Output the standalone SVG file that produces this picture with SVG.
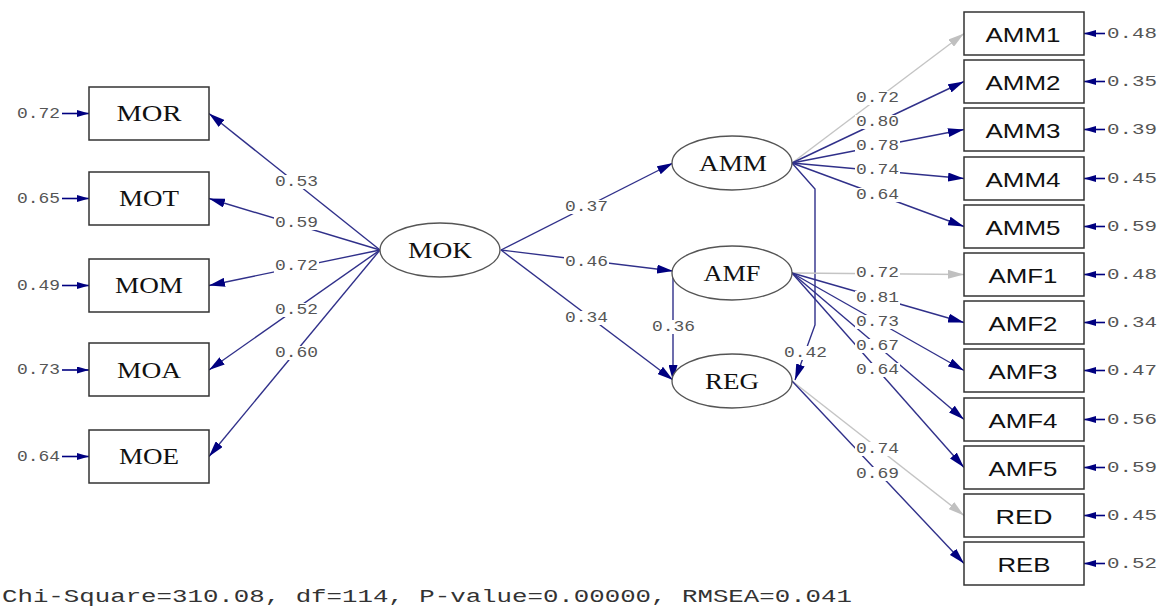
<svg xmlns="http://www.w3.org/2000/svg" width="1164" height="613" viewBox="0 0 1164 613">
<defs>
<style>
.bx{fill:#fff;stroke:#333;stroke-width:1.5}
.el{fill:#fff;stroke:#555;stroke-width:1.3}
.ln{fill:none;stroke:#30308a;stroke-width:1.4}
.lg{fill:none;stroke:#c4c4c4;stroke-width:1.4}
.ea{fill:none;stroke:#000080;stroke-width:1.6}
.bg{fill:#fff}
.tr{font-family:"Liberation Serif","Times New Roman",serif;font-size:23px;fill:#111;text-anchor:middle;dominant-baseline:central}
.ts{font-family:"Liberation Sans",Arial,sans-serif;font-size:21px;fill:#111;text-anchor:middle;dominant-baseline:central}
.tn{font-family:"Liberation Mono","Courier New",monospace;font-size:14px;fill:#555;dominant-baseline:central}
.tb{font-family:"Liberation Mono","Courier New",monospace;font-size:18px;fill:#333}
</style>
<marker id="ah" viewBox="0 0 16 9" refX="16" refY="4.5" markerWidth="16" markerHeight="9" markerUnits="userSpaceOnUse" orient="auto"><path d="M0,0 L16,4.5 L0,9 Z" fill="#000080"/></marker>
<marker id="ag" viewBox="0 0 16 9" refX="16" refY="4.5" markerWidth="16" markerHeight="9" markerUnits="userSpaceOnUse" orient="auto"><path d="M0,0 L16,4.5 L0,9 Z" fill="#c0c0c0"/></marker>
<marker id="ae" viewBox="0 0 12 7" refX="12" refY="3.5" markerWidth="12" markerHeight="7" markerUnits="userSpaceOnUse" orient="auto"><path d="M0,0 L12,3.5 L0,7 Z" fill="#000080"/></marker>
</defs>
<rect width="1164" height="613" fill="#fff"/>

<g id="connectors">
<line class="ln" x1="380" y1="250" x2="209" y2="113.5" marker-end="url(#ah)"/>
<line class="ln" x1="380" y1="250" x2="209" y2="198.5" marker-end="url(#ah)"/>
<line class="ln" x1="380" y1="250" x2="209" y2="285.5" marker-end="url(#ah)"/>
<line class="ln" x1="380" y1="250" x2="209" y2="370" marker-end="url(#ah)"/>
<line class="ln" x1="380" y1="250" x2="209" y2="456.5" marker-end="url(#ah)"/>
<line class="ea" x1="62" y1="113.5" x2="89" y2="113.5" marker-end="url(#ae)"/>
<line class="ea" x1="62" y1="198.5" x2="89" y2="198.5" marker-end="url(#ae)"/>
<line class="ea" x1="62" y1="285.5" x2="89" y2="285.5" marker-end="url(#ae)"/>
<line class="ea" x1="62" y1="370" x2="89" y2="370" marker-end="url(#ae)"/>
<line class="ea" x1="62" y1="456.5" x2="89" y2="456.5" marker-end="url(#ae)"/>
<line class="ln" x1="501" y1="250" x2="673" y2="163" marker-end="url(#ah)"/>
<line class="ln" x1="501" y1="250" x2="673" y2="271" marker-end="url(#ah)"/>
<line class="ln" x1="501" y1="250" x2="673" y2="380" marker-end="url(#ah)"/>
<line class="ln" x1="673" y1="273" x2="673" y2="381" marker-end="url(#ah)"/>
<polyline class="ln" points="792,163 815,189 815,325 795,380" marker-end="url(#ah)"/>
<line class="lg" x1="792" y1="163" x2="964" y2="33.5" marker-end="url(#ag)"/>
<line class="ln" x1="792" y1="163" x2="964" y2="81.5" marker-end="url(#ah)"/>
<line class="ln" x1="792" y1="163" x2="964" y2="129.5" marker-end="url(#ah)"/>
<line class="ln" x1="792" y1="163" x2="964" y2="178.5" marker-end="url(#ah)"/>
<line class="ln" x1="792" y1="163" x2="964" y2="226.5" marker-end="url(#ah)"/>
<line class="lg" x1="792" y1="273" x2="964" y2="274.5" marker-end="url(#ag)"/>
<line class="ln" x1="792" y1="273" x2="964" y2="322.5" marker-end="url(#ah)"/>
<line class="ln" x1="792" y1="273" x2="964" y2="370.5" marker-end="url(#ah)"/>
<line class="ln" x1="792" y1="273" x2="964" y2="419.5" marker-end="url(#ah)"/>
<line class="ln" x1="792" y1="273" x2="964" y2="467.5" marker-end="url(#ah)"/>
<line class="lg" x1="792" y1="381" x2="964" y2="515.5" marker-end="url(#ag)"/>
<line class="ln" x1="792" y1="381" x2="964" y2="563.5" marker-end="url(#ah)"/>
<line class="ea" x1="1105" y1="33.5" x2="1084" y2="33.5" marker-end="url(#ae)"/>
<line class="ea" x1="1105" y1="81.5" x2="1084" y2="81.5" marker-end="url(#ae)"/>
<line class="ea" x1="1105" y1="129.5" x2="1084" y2="129.5" marker-end="url(#ae)"/>
<line class="ea" x1="1105" y1="178.5" x2="1084" y2="178.5" marker-end="url(#ae)"/>
<line class="ea" x1="1105" y1="226.5" x2="1084" y2="226.5" marker-end="url(#ae)"/>
<line class="ea" x1="1105" y1="274.5" x2="1084" y2="274.5" marker-end="url(#ae)"/>
<line class="ea" x1="1105" y1="322.5" x2="1084" y2="322.5" marker-end="url(#ae)"/>
<line class="ea" x1="1105" y1="370.5" x2="1084" y2="370.5" marker-end="url(#ae)"/>
<line class="ea" x1="1105" y1="419.5" x2="1084" y2="419.5" marker-end="url(#ae)"/>
<line class="ea" x1="1105" y1="467.5" x2="1084" y2="467.5" marker-end="url(#ae)"/>
<line class="ea" x1="1105" y1="515.5" x2="1084" y2="515.5" marker-end="url(#ae)"/>
<line class="ea" x1="1105" y1="563.5" x2="1084" y2="563.5" marker-end="url(#ae)"/>
</g>

<g id="path-labels">
<rect class="bg" x="274" y="175" width="45" height="14"/><text class="tn" x="275" y="182" textLength="43" lengthAdjust="spacingAndGlyphs">0.53</text>
<rect class="bg" x="274" y="216" width="45" height="14"/><text class="tn" x="275" y="223" textLength="43" lengthAdjust="spacingAndGlyphs">0.59</text>
<rect class="bg" x="274" y="259" width="45" height="14"/><text class="tn" x="275" y="266" textLength="43" lengthAdjust="spacingAndGlyphs">0.72</text>
<rect class="bg" x="274" y="303" width="45" height="14"/><text class="tn" x="275" y="310" textLength="43" lengthAdjust="spacingAndGlyphs">0.52</text>
<rect class="bg" x="274" y="346" width="45" height="14"/><text class="tn" x="275" y="353" textLength="43" lengthAdjust="spacingAndGlyphs">0.60</text>
<rect class="bg" x="564" y="200" width="45" height="14"/><text class="tn" x="565" y="207" textLength="43" lengthAdjust="spacingAndGlyphs">0.37</text>
<rect class="bg" x="564" y="255" width="45" height="14"/><text class="tn" x="565" y="262" textLength="43" lengthAdjust="spacingAndGlyphs">0.46</text>
<rect class="bg" x="564" y="311" width="45" height="14"/><text class="tn" x="565" y="318" textLength="43" lengthAdjust="spacingAndGlyphs">0.34</text>
<rect class="bg" x="651" y="320" width="45" height="14"/><text class="tn" x="652" y="327" textLength="43" lengthAdjust="spacingAndGlyphs">0.36</text>
<rect class="bg" x="783" y="346" width="45" height="14"/><text class="tn" x="784" y="353" textLength="43" lengthAdjust="spacingAndGlyphs">0.42</text>
<rect class="bg" x="855" y="91" width="45" height="14"/><text class="tn" x="856" y="98" textLength="43" lengthAdjust="spacingAndGlyphs">0.72</text>
<rect class="bg" x="855" y="115" width="45" height="14"/><text class="tn" x="856" y="122" textLength="43" lengthAdjust="spacingAndGlyphs">0.80</text>
<rect class="bg" x="855" y="139" width="45" height="14"/><text class="tn" x="856" y="146" textLength="43" lengthAdjust="spacingAndGlyphs">0.78</text>
<rect class="bg" x="855" y="163" width="45" height="14"/><text class="tn" x="856" y="170" textLength="43" lengthAdjust="spacingAndGlyphs">0.74</text>
<rect class="bg" x="855" y="188" width="45" height="14"/><text class="tn" x="856" y="195" textLength="43" lengthAdjust="spacingAndGlyphs">0.64</text>
<rect class="bg" x="855" y="266" width="45" height="14"/><text class="tn" x="856" y="273" textLength="43" lengthAdjust="spacingAndGlyphs">0.72</text>
<rect class="bg" x="855" y="291" width="45" height="14"/><text class="tn" x="856" y="298" textLength="43" lengthAdjust="spacingAndGlyphs">0.81</text>
<rect class="bg" x="855" y="315" width="45" height="14"/><text class="tn" x="856" y="322" textLength="43" lengthAdjust="spacingAndGlyphs">0.73</text>
<rect class="bg" x="855" y="339" width="45" height="14"/><text class="tn" x="856" y="346" textLength="43" lengthAdjust="spacingAndGlyphs">0.67</text>
<rect class="bg" x="855" y="363" width="45" height="14"/><text class="tn" x="856" y="370" textLength="43" lengthAdjust="spacingAndGlyphs">0.64</text>
<rect class="bg" x="855" y="442" width="45" height="14"/><text class="tn" x="856" y="449" textLength="43" lengthAdjust="spacingAndGlyphs">0.74</text>
<rect class="bg" x="855" y="467" width="45" height="14"/><text class="tn" x="856" y="474" textLength="43" lengthAdjust="spacingAndGlyphs">0.69</text>
</g>

<g id="error-labels">
<text class="tn" x="17" y="113.5" textLength="43" lengthAdjust="spacingAndGlyphs">0.72</text>
<text class="tn" x="17" y="198.5" textLength="43" lengthAdjust="spacingAndGlyphs">0.65</text>
<text class="tn" x="17" y="285.5" textLength="43" lengthAdjust="spacingAndGlyphs">0.49</text>
<text class="tn" x="17" y="370" textLength="43" lengthAdjust="spacingAndGlyphs">0.73</text>
<text class="tn" x="17" y="456.5" textLength="43" lengthAdjust="spacingAndGlyphs">0.64</text>
<text class="tn" x="1107" y="33.5" textLength="50" lengthAdjust="spacingAndGlyphs">0.48</text>
<text class="tn" x="1107" y="81.5" textLength="50" lengthAdjust="spacingAndGlyphs">0.35</text>
<text class="tn" x="1107" y="129.5" textLength="50" lengthAdjust="spacingAndGlyphs">0.39</text>
<text class="tn" x="1107" y="178.5" textLength="50" lengthAdjust="spacingAndGlyphs">0.45</text>
<text class="tn" x="1107" y="226.5" textLength="50" lengthAdjust="spacingAndGlyphs">0.59</text>
<text class="tn" x="1107" y="274.5" textLength="50" lengthAdjust="spacingAndGlyphs">0.48</text>
<text class="tn" x="1107" y="322.5" textLength="50" lengthAdjust="spacingAndGlyphs">0.34</text>
<text class="tn" x="1107" y="370.5" textLength="50" lengthAdjust="spacingAndGlyphs">0.47</text>
<text class="tn" x="1107" y="419.5" textLength="50" lengthAdjust="spacingAndGlyphs">0.56</text>
<text class="tn" x="1107" y="467.5" textLength="50" lengthAdjust="spacingAndGlyphs">0.59</text>
<text class="tn" x="1107" y="515.5" textLength="50" lengthAdjust="spacingAndGlyphs">0.45</text>
<text class="tn" x="1107" y="563.5" textLength="50" lengthAdjust="spacingAndGlyphs">0.52</text>
</g>

<g id="MOR"><rect class="bx" x="89" y="87" width="120" height="53"/><text class="tr" x="149" y="113.5" textLength="65" lengthAdjust="spacingAndGlyphs">MOR</text></g>
<g id="MOT"><rect class="bx" x="89" y="172" width="120" height="53"/><text class="tr" x="149" y="198.5" textLength="60" lengthAdjust="spacingAndGlyphs">MOT</text></g>
<g id="MOM"><rect class="bx" x="89" y="259" width="120" height="53"/><text class="tr" x="149" y="285.5" textLength="68" lengthAdjust="spacingAndGlyphs">MOM</text></g>
<g id="MOA"><rect class="bx" x="89" y="343" width="120" height="53"/><text class="tr" x="149" y="370" textLength="64" lengthAdjust="spacingAndGlyphs">MOA</text></g>
<g id="MOE"><rect class="bx" x="89" y="430" width="120" height="53"/><text class="tr" x="149" y="456.5" textLength="60" lengthAdjust="spacingAndGlyphs">MOE</text></g>

<g id="MOK"><ellipse class="el" cx="440" cy="250" rx="60" ry="27"/><text class="tr" x="440" y="250" textLength="64" lengthAdjust="spacingAndGlyphs">MOK</text></g>
<g id="AMM"><ellipse class="el" cx="732" cy="163" rx="60" ry="27"/><text class="tr" x="733" y="163" textLength="68" lengthAdjust="spacingAndGlyphs">AMM</text></g>
<g id="AMF"><ellipse class="el" cx="732" cy="273" rx="60" ry="27"/><text class="tr" x="732" y="273" textLength="57" lengthAdjust="spacingAndGlyphs">AMF</text></g>
<g id="REG"><ellipse class="el" cx="732" cy="381" rx="60" ry="27"/><text class="tr" x="732" y="381" textLength="54" lengthAdjust="spacingAndGlyphs">REG</text></g>

<g id="AMM1"><rect class="bx" x="964" y="12" width="120" height="43"/><text class="ts" x="1023" y="34" textLength="75" lengthAdjust="spacingAndGlyphs">AMM1</text></g>
<g id="AMM2"><rect class="bx" x="964" y="60" width="120" height="43"/><text class="ts" x="1023" y="82" textLength="75" lengthAdjust="spacingAndGlyphs">AMM2</text></g>
<g id="AMM3"><rect class="bx" x="964" y="108" width="120" height="43"/><text class="ts" x="1023" y="130" textLength="75" lengthAdjust="spacingAndGlyphs">AMM3</text></g>
<g id="AMM4"><rect class="bx" x="964" y="157" width="120" height="43"/><text class="ts" x="1023" y="179" textLength="75" lengthAdjust="spacingAndGlyphs">AMM4</text></g>
<g id="AMM5"><rect class="bx" x="964" y="205" width="120" height="43"/><text class="ts" x="1023" y="227" textLength="75" lengthAdjust="spacingAndGlyphs">AMM5</text></g>
<g id="AMF1"><rect class="bx" x="964" y="253" width="120" height="43"/><text class="ts" x="1023" y="275" textLength="69" lengthAdjust="spacingAndGlyphs">AMF1</text></g>
<g id="AMF2"><rect class="bx" x="964" y="301" width="120" height="43"/><text class="ts" x="1023" y="323" textLength="69" lengthAdjust="spacingAndGlyphs">AMF2</text></g>
<g id="AMF3"><rect class="bx" x="964" y="349" width="120" height="43"/><text class="ts" x="1023" y="371" textLength="69" lengthAdjust="spacingAndGlyphs">AMF3</text></g>
<g id="AMF4"><rect class="bx" x="964" y="398" width="120" height="43"/><text class="ts" x="1023" y="420" textLength="69" lengthAdjust="spacingAndGlyphs">AMF4</text></g>
<g id="AMF5"><rect class="bx" x="964" y="446" width="120" height="43"/><text class="ts" x="1023" y="468" textLength="69" lengthAdjust="spacingAndGlyphs">AMF5</text></g>
<g id="RED"><rect class="bx" x="964" y="494" width="120" height="43"/><text class="ts" x="1024" y="516" textLength="57" lengthAdjust="spacingAndGlyphs">RED</text></g>
<g id="REB"><rect class="bx" x="964" y="542" width="120" height="43"/><text class="ts" x="1024" y="564" textLength="53" lengthAdjust="spacingAndGlyphs">REB</text></g>

<text class="tb" x="2" y="602" textLength="850" lengthAdjust="spacingAndGlyphs">Chi-Square=310.08, df=114, P-value=0.00000, RMSEA=0.041</text>
</svg>
